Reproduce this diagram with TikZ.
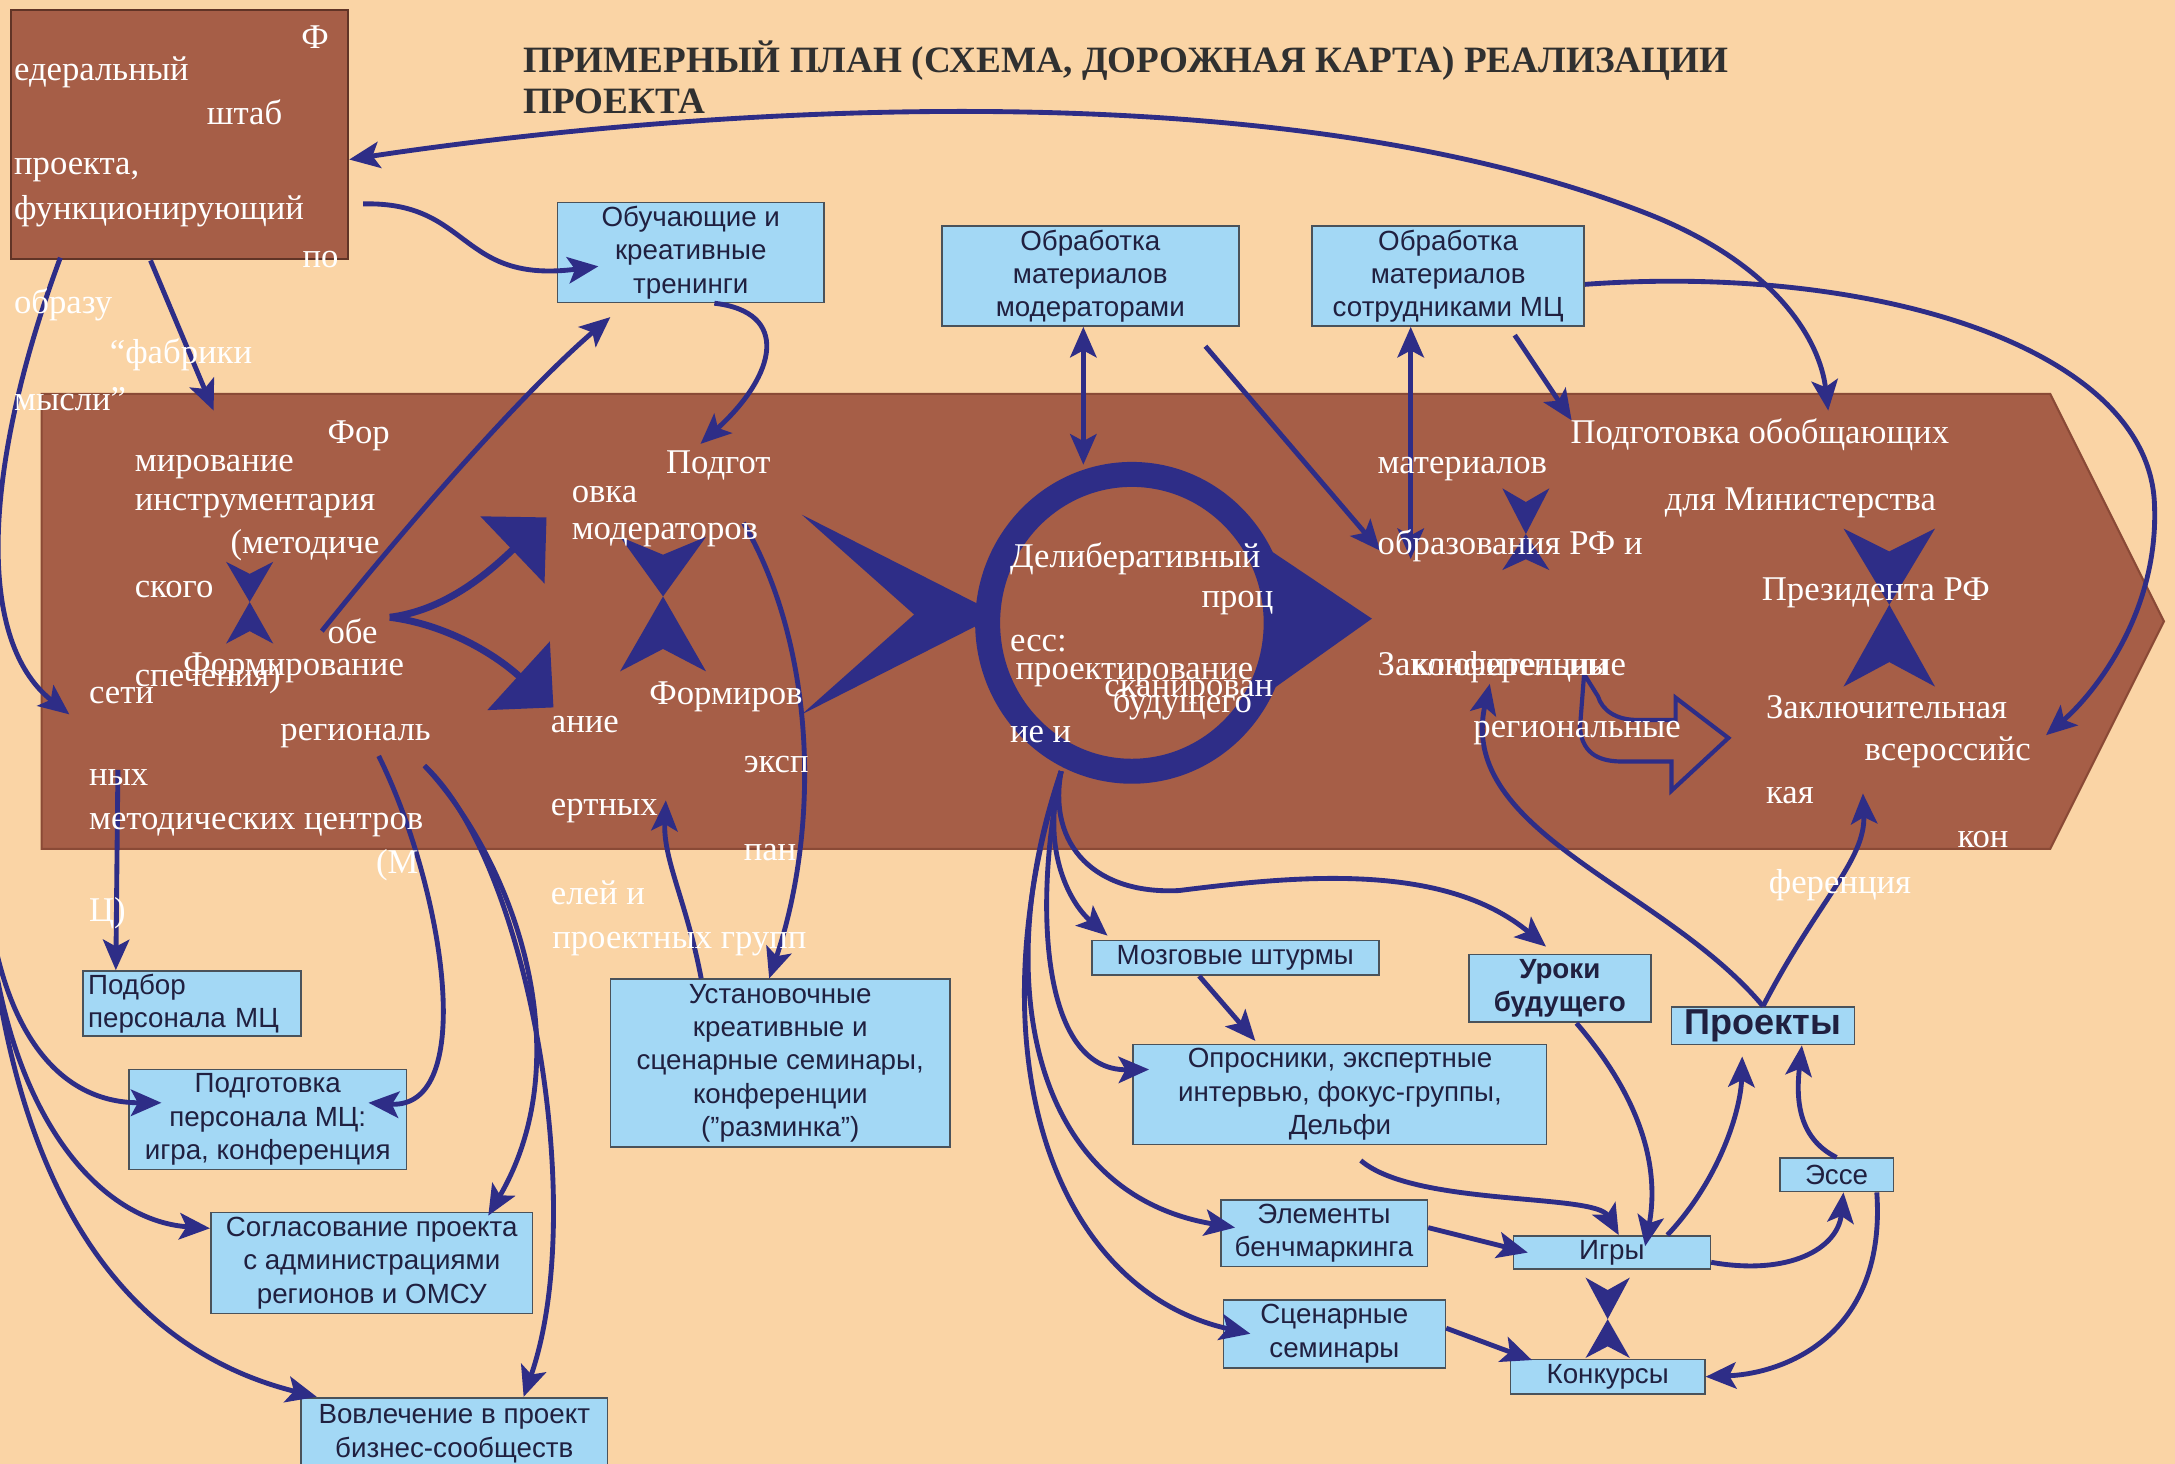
\documentclass[tikz,border=0pt]{standalone}
\usepackage{fontspec}
\setmainfont{Liberation Serif}
\newfontfamily\boxfont{Liberation Sans}
\usetikzlibrary{arrows.meta}

\definecolor{peach}{HTML}{FAD4A5}
\definecolor{brick}{HTML}{A65E47}
\definecolor{brickdark}{HTML}{8A4A36}
\definecolor{ink}{HTML}{2E2D87}
\definecolor{sky}{HTML}{A3D8F5}
\definecolor{boxline}{HTML}{4A525A}
\definecolor{boxtext}{HTML}{202040}
\definecolor{titlec}{HTML}{303030}

% hourglass: x, top, middle, bottom, half width
\newcommand{\hglass}[5]{%
  \fill[ink] (#1-#5,#2) -- (#1,{#2+0.3*(#3-#2)}) -- (#1+#5,#2) -- (#1,#3) -- cycle;
  \fill[ink] (#1-#5,#4) -- (#1,{#4-0.3*(#4-#3)}) -- (#1+#5,#4) -- (#1,#3) -- cycle;}

\begin{document}
\begin{tikzpicture}[x=1pt,y=-1pt,
    >={Stealth[length=22pt,width=19pt,inset=5pt]},
    arr/.style={draw=ink, line width=3.5pt, ->},
    bluebox/.style={draw=boxline, line width=1.2pt, fill=sky, text=boxtext,
      font=\boxfont\fontsize{20}{24}\selectfont, align=center, inner sep=0pt},
    wt/.style={text=white, font=\fontsize{25}{28}\selectfont, anchor=base west, inner sep=0pt}]
  \useasboundingbox (0,0) rectangle (1568,1055.4);
  \fill[peach] (0,0) rectangle (1568,1055.4);

  % band and headquarters
  \filldraw[fill=brick, draw=brickdark, line width=1.5pt] (30,284) -- (1478,284) -- (1560,448) -- (1478,612) -- (30,612) -- cycle;
  \node[draw=brickdark!70!black, line width=1.5pt, fill=brick, minimum width=243pt, minimum height=180pt, inner sep=0pt] (hq) at (129.5,97) {};

  % big shapes in the band
  \fill[ink] (578,371) -- (720,443) -- (578,515) -- (659,443) -- cycle;
  \fill[ink] (913,395) -- (989,446) -- (913,500) -- cycle;
  \draw[ink, line width=18pt] (816,449) ellipse [x radius=104pt, y radius=107pt];
  \draw[ink, line width=5pt, -{Triangle[length=34pt,width=66pt]}] (281,445) .. controls (320,440) and (350,415) .. (394,373);
  \draw[ink, line width=5pt, -{Triangle[length=34pt,width=66pt]}] (281,445) .. controls (320,450) and (355,470) .. (399,510);
  \hglass{180}{405}{434}{464}{17}
  \hglass{478}{387}{430}{484}{31}
  \hglass{1100}{352}{385}{411}{17}
  \hglass{1362}{381}{436}{495}{33}
  \hglass{1159}{921}{951}{979}{16}
  \draw[ink, line width=3pt] (1142,486) -- (1139,525) .. controls (1141,545) and (1155,549) .. (1170,549) -- (1205,549) -- (1205,570) -- (1246,532) -- (1208,503) -- (1208,519) -- (1180,519) .. controls (1165,519) and (1155,512) .. (1152,502) -- cycle;

  % boxes
  \node[bluebox, minimum width=192pt, minimum height=72pt] (train) at (498,182) {Обучающие и\\креативные\\тренинги};
  \node[bluebox, minimum width=214pt, minimum height=72pt] (mod) at (786,199) {Обработка\\материалов\\модераторами};
  \node[bluebox, minimum width=196pt, minimum height=72pt] (mcw) at (1044,199) {Обработка\\материалов\\сотрудниками МЦ};
  \node[bluebox, align=left, text width=150pt, inner xsep=3.5pt, minimum height=47pt] (podbor) at (138.5,723.5) {Подбор\\персонала МЦ};
  \node[bluebox, minimum width=200pt, minimum height=72pt] (podg) at (193,807) {Подготовка\\персонала МЦ:\\игра, конференция};
  \node[bluebox, minimum width=232pt, minimum height=73pt] (soglas) at (268,910.5) {Согласование проекта\\с администрациями\\регионов и ОМСУ};
  \node[bluebox, minimum width=221pt, minimum height=52pt, anchor=north] (vovl) at (327.5,1007) {Вовлечение в проект\\бизнес-сообществ};
  \node[bluebox, minimum width=245pt, minimum height=121pt] (ustan) at (562.5,766.5) {Установочные\\креативные и\\сценарные семинары,\\конференции\\(”разминка”)};
  \node[bluebox, minimum width=207pt, minimum height=25pt] (brain) at (890.5,690.5) {Мозговые штурмы};
  \node[bluebox, font=\boxfont\bfseries\fontsize{20}{24}\selectfont, minimum width=131pt, minimum height=49pt] (uroki) at (1124.5,712.5) {Уроки\\будущего};
  \node[bluebox, minimum width=298pt, minimum height=72pt] (oprosn) at (966,789) {Опросники, экспертные\\интервью, фокус-группы,\\Дельфи};
  \node[bluebox, font=\boxfont\bfseries\fontsize{26}{28}\selectfont, minimum width=132pt, minimum height=27pt] (proekty) at (1271,739.5) {Проекты};
  \node[bluebox, minimum width=82pt, minimum height=24pt] (esse) at (1324,847) {Эссе};
  \node[bluebox, minimum width=149pt, minimum height=48pt] (bench) at (954.5,889) {Элементы\\бенчмаркинга};
  \node[bluebox, minimum width=142pt, minimum height=24pt] (igry) at (1162,903) {Игры};
  \node[bluebox, minimum width=160pt, minimum height=49pt] (scen) at (962,961.5) {Сценарные\\семинары};
  \node[bluebox, minimum width=140pt, minimum height=25pt] (konk) at (1159,992.5) {Конкурсы};

  % free ends in the band
  \coordinate (obobT) at (1318,296);
  \coordinate (vseross) at (1475,530);
  \coordinate (moderT) at (505,320);
  \coordinate (obeS) at (232,455);
  \coordinate (instrN) at (154,296);
  \coordinate (setiW) at (50,515);
  \coordinate (nyhS) at (85,555);
  \coordinate (offL) at (-10,640);
  \coordinate (regA) at (273,545);
  \coordinate (regB) at (306,552);
  \coordinate (expS) at (480,577);
  \coordinate (moderS) at (536,377);
  \coordinate (ringT) at (781,335);
  \coordinate (obrA) at (995,397);
  \coordinate (obrB) at (1017,403);
  \coordinate (obobA) at (1133,303);
  \coordinate (ringB) at (765,556);
  \coordinate (konfS) at (1074,493);
  \coordinate (zaklS) at (1343,572);

  % connectors
  \draw[arr,<->] ([yshift=-18pt]hq.east) .. controls (450,85) and (900,40) .. (1190,155) .. controls (1280,191) and (1312,245) .. (obobT);
  \draw[arr] ([yshift=-6pt]mcw.east) .. controls (1350,190) and (1545,250) .. (1553,360) .. controls (1558,440) and (1510,500) .. (vseross);
  \draw[arr] ([xshift=10pt,yshift=-50pt]hq.east) .. controls (340,145) and (330,205) .. ([xshift=30pt,yshift=-10pt]train.west);
  \draw[arr] ([xshift=17pt]train.south) .. controls (570,225) and (560,270) .. (moderT);
  \draw[arr] (obeS) .. controls (300,370) and (380,280) .. ([xshift=-58pt,yshift=-10pt]train.south);
  \draw[arr] ([xshift=-21pt]hq.south) -- (instrN);
  \draw[arr] ([xshift=-86pt,yshift=2pt]hq.south) .. controls (-10,330) and (-20,460) .. (setiW);
  \draw[arr] (nyhS) -- ([xshift=-55pt]podbor.north);
  \draw[arr] (offL) .. controls (0,740) and (40,795) .. ([xshift=24pt,yshift=12pt]podg.west);
  \draw[arr] (offL) .. controls (0,800) and (70,880) .. ([yshift=25pt]soglas.west);
  \draw[arr] (offL) .. controls (10,900) and (120,980) .. ([xshift=12pt]vovl.north west);
  \draw[arr] (regA) .. controls (320,640) and (345,800) .. ([xshift=-28pt,yshift=12pt]podg.east);
  \draw[arr] (regB) .. controls (370,620) and (420,760) .. ([xshift=84pt,yshift=-3pt]soglas.north);
  \draw[arr] (regB) .. controls (380,620) and (425,870) .. ([xshift=50pt]vovl.north);
  \draw[arr] ([xshift=-57pt]ustan.north) .. controls (495,650) and (478,620) .. (expS);
  \draw[arr] (moderS) .. controls (590,470) and (590,600) .. ([xshift=-8pt]ustan.north);
  \draw[arr,<->] ([xshift=-5pt]mod.south) -- (ringT);
  \draw[arr] ([xshift=83pt,yshift=-14pt]mod.south) -- (obrA);
  \draw[arr,<->] ([xshift=-27pt]mcw.south) -- (obrB);
  \draw[arr] ([xshift=48pt,yshift=-6pt]mcw.south) -- (obobA);
  \draw[arr] (ringB) .. controls (750,610) and (770,650) .. ([xshift=12pt,yshift=16pt]brain.west);
  \draw[arr] (ringB) .. controls (755,610) and (790,645) .. (850,642) .. controls (930,632) and (1040,620) .. ([xshift=-10pt,yshift=5pt]uroki.north);
  \draw[arr] (ringB) .. controls (745,650) and (750,772) .. ([xshift=12pt,yshift=18pt]oprosn.west);
  \draw[arr] (ringB) .. controls (715,700) and (740,860) .. ([xshift=11pt,yshift=4pt]bench.west);
  \draw[arr] (ringB) .. controls (700,760) and (760,930) .. ([xshift=20pt]scen.west);
  \draw[arr] (proekty.north) .. controls (1200,640) and (1050,600) .. (konfS);
  \draw[arr] (proekty.north) .. controls (1310,650) and (1345,620) .. (zaklS);
  \draw[arr] ([xshift=15pt,yshift=-11pt]oprosn.south) .. controls (1020,870) and (1150,860) .. ([xshift=5pt]igry.north);
  \draw[arr] ([xshift=-26pt]brain.south) -- ([xshift=-61pt,yshift=2pt]oprosn.north);
  \draw[arr] ([xshift=12pt]uroki.south) .. controls (1190,800) and (1195,850) .. ([xshift=24pt,yshift=-8pt]igry.north);
  \draw[arr] ([xshift=40pt]igry.north) .. controls (1240,850) and (1255,800) .. ([xshift=-15pt,yshift=-8pt]proekty.south);
  \draw[arr] ([yshift=-7pt]igry.east) .. controls (1290,920) and (1325,900) .. ([xshift=5pt]esse.south);
  \draw[arr] (esse.north) .. controls (1295,820) and (1295,790) .. ([xshift=28pt]proekty.south);
  \draw[arr] ([xshift=29pt]esse.south) .. controls (1360,960) and (1290,990) .. (konk.east);
  \draw[arr] ([yshift=4pt]bench.east) -- ([xshift=11pt]igry.west);
  \draw[arr] ([yshift=4pt]scen.east) -- ([xshift=16pt,yshift=12pt]konk.west);

  % white text
  \node[wt] (hq1) at (217,35) {Ф};
  \node[wt] (hq2) at (10,58) {едеральный};
  \node[wt] (hq3) at (149,90) {штаб};
  \node[wt] (hq4) at (10,126) {проекта,};
  \node[wt] (hq5) at (10,158) {функционирующий};
  \node[wt] (hq6) at (218,193) {по};
  \node[wt] (hq7) at (10,226) {образу};
  \node[wt] (hq8) at (79,262) {“фабрики};
  \node[wt] (hq9) at (10,296) {мысли”};

  \node[wt] (ins1) at (236,320) {Фор};
  \node[wt] (ins2) at (97,340) {мирование};
  \node[wt] (ins3) at (97,368) {инструментария};
  \node[wt] (ins4) at (166,399) {(методиче};
  \node[wt] (ins5) at (97,431) {ского};
  \node[wt] (ins6) at (236,464) {обе};
  \node[wt] (ins7) at (97,495) {спечения)};

  \node[wt] (net1) at (132,487) {Формирование};
  \node[wt] (net2) at (64,507) {сети};
  \node[wt] (net3) at (202,534) {региональ};
  \node[wt] (net4) at (64,566) {ных};
  \node[wt] (net5) at (64,598) {методических центров};
  \node[wt] (net6) at (271,630) {(М};
  \node[wt] (net7) at (64,664) {Ц)};

  \node[wt] (mdr1) at (480,341) {Подгот};
  \node[wt] (mdr2) at (412,362) {овка};
  \node[wt] (mdr3) at (412,389) {модераторов};

  \node[wt] (exp1) at (468,508) {Формиров};
  \node[wt] (exp2) at (397,528) {ание};
  \node[wt] (exp3) at (536,557) {эксп};
  \node[wt] (exp4) at (397,588) {ертных};
  \node[wt] (exp5) at (536,620) {пан};
  \node[wt] (exp6) at (397,652) {елей и};
  \node[wt] (exp7) at (398,684) {проектных групп};

  \node[wt] (dlb1) at (728,409) {Делиберативный};
  \node[wt] (dlb2) at (866,438) {проц};
  \node[wt] (dlb3) at (728,470) {есс:};
  \node[wt] (dlb4) at (732,490) {проектирование};
  \node[wt] (dlb5) at (796,502) {сканирован};
  \node[wt] (dlb6) at (802,514) {будущего};
  \node[wt] (dlb7) at (728,535) {ие и};

  \node[wt] (sum1) at (1132,320) {Подготовка обобщающих};
  \node[wt] (sum2) at (993,341) {материалов};
  \node[wt] (sum3) at (1200,368) {для Министерства};
  \node[wt] (sum4) at (993,400) {образования РФ и};
  \node[wt] (sum5) at (1270,433) {Президента РФ};

  \node[wt] (reg1) at (993,487) {Заключительные};
  \node[wt] (reg2) at (1018,487) {конференции};
  \node[wt] (reg3) at (1062,532) {региональные};

  \node[wt] (fin1) at (1273,518) {Заключительная};
  \node[wt] (fin2) at (1344,548) {всероссийс};
  \node[wt] (fin3) at (1273,579) {кая};
  \node[wt] (fin4) at (1411,611) {кон};
  \node[wt] (fin5) at (1275,644) {ференция};

  % title
  \node[anchor=base west, inner sep=0pt, text=titlec, font=\bfseries\fontsize{26.8}{30}\selectfont] (title1) at (377,52) {ПРИМЕРНЫЙ ПЛАН (СХЕМА, ДОРОЖНАЯ КАРТА) РЕАЛИЗАЦИИ};
  \node[anchor=base west, inner sep=0pt, text=titlec, font=\bfseries\fontsize{26.8}{30}\selectfont] (title2) at (377,81.7) {ПРОЕКТА};
\end{tikzpicture}
\end{document}
